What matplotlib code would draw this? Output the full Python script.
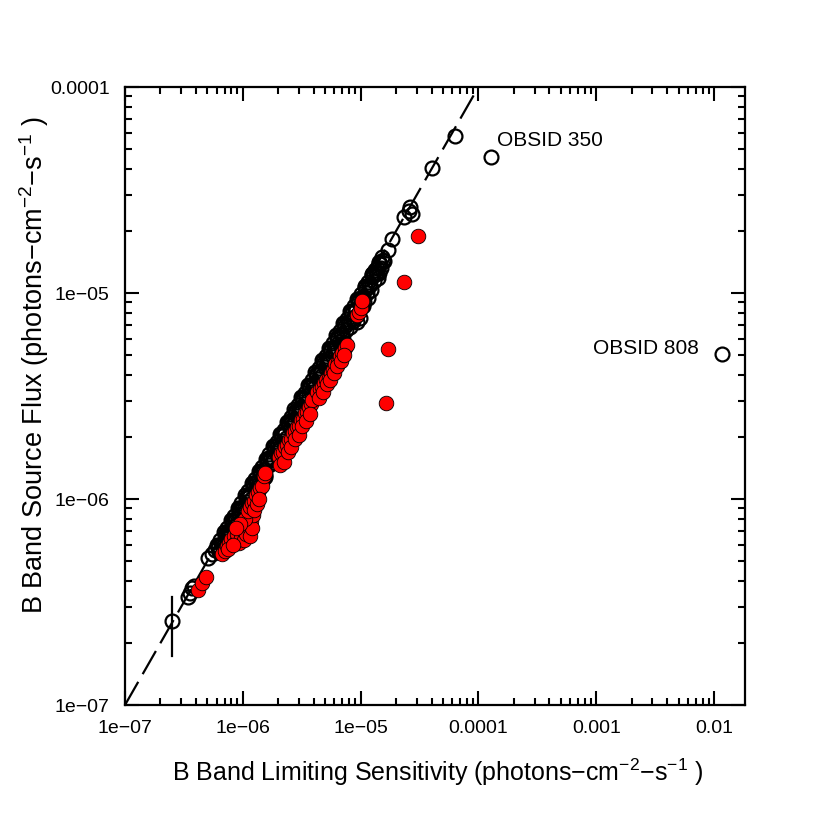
import matplotlib
matplotlib.use('Agg')
import matplotlib.pyplot as plt
import numpy as np
from matplotlib.ticker import FixedLocator, FixedFormatter, LogLocator, NullFormatter

plt.rcParams['font.family'] = ['Liberation Sans', 'DejaVu Sans']
plt.rcParams['mathtext.default'] = 'regular'

# sources on the detection line (open black circles), units of 1e-6
black_x = [0.252, 0.34, 0.355, 0.37, 0.385, 0.51, 0.545, 0.575,
           0.600, 0.621, 0.643, 0.665, 0.689, 0.713, 0.738, 0.763, 0.790, 0.818,
           0.846, 0.876, 0.907, 0.938, 0.971, 1.005, 1.040, 1.077, 1.114, 1.153,
           1.194, 1.235, 1.279, 1.323, 1.370, 1.418, 1.467, 1.518, 1.572, 1.627,
           1.684, 1.742, 1.803, 1.866, 1.932, 1.999, 2.069, 2.142, 2.217, 2.294,
           2.374, 2.458, 2.544, 2.633, 2.725, 2.820, 2.919, 3.021, 3.127, 3.236,
           3.349, 3.467, 3.588, 3.714, 3.843, 3.978, 4.117, 4.261, 4.410, 4.565,
           4.724, 4.890, 5.061, 5.238, 5.421, 5.611, 5.808, 6.011, 6.221, 6.439,
           6.665, 6.898, 7.139, 7.389, 7.648, 7.915, 8.192, 8.479, 8.776, 9.083,
           9.401, 9.730, 10.07, 10.42, 10.79, 11.17, 11.56, 11.96, 12.38, 12.81,
           13.26, 13.72, 14.20, 14.70, 15.22, 15.75,
           1.48, 1.55, 6.8, 7.1, 9.3, 9.9, 8.6, 10.5, 11.5, 12.8, 13.8,
           14.2, 17.0, 18.5, 23.5, 25.5, 27.5, 26.0, 40.3, 63.0, 128.0, 11700.0]
black_y = [0.256, 0.335, 0.35, 0.37, 0.38, 0.52, 0.54, 0.565,
           0.600, 0.584, 0.630, 0.605, 0.689, 0.670, 0.723, 0.694, 0.790, 0.769,
           0.829, 0.797, 0.907, 0.882, 0.952, 0.915, 1.040, 1.012, 1.092, 1.049,
           1.194, 1.161, 1.253, 1.204, 1.370, 1.333, 1.438, 1.381, 1.572, 1.529,
           1.650, 1.585, 1.803, 1.754, 1.893, 1.819, 2.069, 2.013, 2.173, 2.088,
           2.374, 2.311, 2.493, 2.396, 2.725, 2.651, 2.861, 2.749, 3.127, 3.042,
           3.282, 3.155, 3.588, 3.491, 3.766, 3.620, 4.117, 4.005, 4.322, 4.154,
           4.724, 4.597, 4.960, 4.767, 5.421, 5.274, 5.692, 5.470, 6.221, 6.053,
           6.532, 6.277, 7.139, 6.946, 7.495, 7.203, 8.192, 7.970, 8.600, 8.266,
           9.401, 9.146, 9.87, 9.48, 10.79, 10.50, 11.33, 10.88, 12.38, 12.04,
           12.99, 12.49, 14.20, 13.82, 14.92, 14.33,
           1.25, 1.28, 5.5, 5.7, 7.2, 7.6, 7.3, 8.6, 9.5, 12.5, 13.2,
           12.5, 16.2, 18.3, 23.3, 25.0, 24.2, 26.2, 40.5, 58.0, 45.7, 5.06]

# more line sources, slightly fainter than the limit
black2_x = [0.610, 0.632, 0.654, 0.677, 0.701, 0.725, 0.751, 0.777, 0.804, 0.832,
            0.861, 0.891, 0.922, 0.954, 0.988, 1.022, 1.058, 1.095, 1.133, 1.173,
            1.214, 1.257, 1.301, 1.346, 1.394, 1.442, 1.492, 1.545, 1.599, 1.655,
            1.713, 1.773, 1.835, 1.899, 1.965, 2.034, 2.105, 2.179, 2.255, 2.334,
            2.416, 2.501, 2.588, 2.679, 2.772, 2.869, 2.970, 3.074, 3.181, 3.292,
            3.408, 3.527, 3.651, 3.778, 3.910, 4.047, 4.189, 4.335, 4.487, 4.644,
            4.807, 4.975, 5.149, 5.329, 5.516, 5.709, 5.909, 6.116, 6.330, 6.552,
            6.781, 7.018, 7.264, 7.518, 7.781, 8.054, 8.335, 8.627, 8.929, 9.242,
            9.565, 9.900, 10.25, 10.61, 10.98, 11.36, 11.76, 12.17, 12.60, 13.04,
            13.49, 13.96, 14.45, 14.96, 15.48]
black2_y = [0.592, 0.556, 0.608, 0.575, 0.680, 0.638, 0.698, 0.660, 0.780, 0.732,
            0.801, 0.757, 0.894, 0.840, 0.919, 0.869, 1.026, 0.964, 1.054, 0.997,
            1.178, 1.106, 1.210, 1.144, 1.352, 1.269, 1.388, 1.313, 1.551, 1.456,
            1.593, 1.507, 1.780, 1.671, 1.827, 1.729, 2.042, 1.918, 2.097, 1.984,
            2.344, 2.201, 2.407, 2.277, 2.689, 2.525, 2.762, 2.613, 3.086, 2.897,
            3.169, 2.998, 3.541, 3.325, 3.636, 3.440, 4.063, 3.815, 4.173, 3.947,
            4.663, 4.378, 4.789, 4.530, 5.351, 5.024, 5.495, 5.199, 6.140, 5.766,
            6.306, 5.965, 7.046, 6.616, 7.236, 6.846, 8.085, 7.592, 8.304, 7.856,
            9.278, 8.712, 9.533, 9.019, 10.65, 9.997, 10.94, 10.34, 12.22, 11.48,
            12.55, 11.87, 14.02, 13.16, 14.40]

# sources below the line (filled red), units of 1e-6
red_x = [0.42, 0.45, 0.49,
         0.66, 0.70, 0.73, 0.77, 0.80, 0.84, 0.87, 0.90, 0.93, 0.97, 1.00, 1.03,
         1.06, 1.10, 1.14, 1.17, 1.20, 1.22, 1.05, 1.10, 1.15, 1.20, 1.25, 1.30,
         1.35, 1.40, 1.45, 0.95, 0.88, 0.75, 0.82, 1.25, 1.32, 1.38, 1.50, 1.55,
         2.02, 2.10, 2.18, 2.26, 2.35, 2.45, 2.55, 2.65,
         2.75, 2.86, 2.98, 3.10, 3.22, 3.35, 3.48, 3.62, 3.76, 3.90,
         2.06, 2.22, 2.40, 2.58, 2.80, 3.00, 3.20, 3.45, 3.70,
         4.3, 4.5, 4.7, 4.9, 5.1, 5.35, 5.6, 5.85, 6.1, 6.4, 6.7, 7.0, 7.3, 7.6,
         4.4, 4.8, 5.2, 5.5, 5.9, 6.3, 6.8, 7.2,
         9.3, 9.6, 10.0, 10.3,
         30.7, 23.3, 17.1, 16.4]
red_y = [0.36, 0.39, 0.42,
         0.54, 0.56, 0.59, 0.61, 0.64, 0.66, 0.62, 0.68, 0.61, 0.65, 0.72, 0.63,
         0.68, 0.74, 0.66, 0.78, 0.72, 0.84, 0.80, 0.87, 0.91, 0.96, 0.98, 1.04,
         1.08, 1.13, 1.15, 0.76, 0.72, 0.57, 0.60, 0.88, 0.95, 1.00, 1.30, 1.34,
         1.60, 1.68, 1.70, 1.79, 1.83, 1.94, 1.96, 2.09,
         2.13, 2.24, 2.26, 2.43, 2.45, 2.61, 2.65, 2.80, 2.88, 3.02,
         1.46, 1.52, 1.70, 1.78, 1.96, 2.05, 2.26, 2.38, 2.60,
         3.30, 3.42, 3.50, 3.65, 3.78, 3.86, 4.10, 4.25, 4.54, 4.65, 4.92, 5.10,
         5.40, 5.60,
         3.10, 3.30, 3.62, 3.80, 4.10, 4.40, 4.70, 5.00,
         7.8, 8.1, 8.5, 9.1,
         18.9, 11.3, 5.35, 2.92]

# error bar on the faintest source
err_x = 0.252
err_lo, err_hi = 0.173, 0.334

x_ticks = [1e-7, 1e-6, 1e-5, 1e-4, 1e-3, 1e-2]
x_tick_labels = ['1e\u221207', '1e\u221206', '1e\u221205', '0.0001', '0.001', '0.01']
y_ticks = [1e-7, 1e-6, 1e-5, 1e-4]
y_tick_labels = ['1e\u221207', '1e\u221206', '1e\u221205', '0.0001']

bx = np.array(black_x + black2_x) * 1e-6
by = np.array(black_y + black2_y) * 1e-6
rx = np.array(red_x) * 1e-6
ry = np.array(red_y) * 1e-6

fig = plt.figure(figsize=(8.3, 8.3), dpi=100)
ax = fig.add_axes([125 / 830, 125 / 830, 620 / 830, 618 / 830])
ax.set_xscale('log')
ax.set_yscale('log')
ax.set_xlim(1e-7, 0.0183)
ax.set_ylim(1e-7, 1e-4)

# one-to-one line
line = np.array([1e-7, 1e-4])
ax.plot(line, line, color='black', lw=1.6, dashes=(12, 4), zorder=1)

ax.plot([err_x * 1e-6, err_x * 1e-6], [err_lo * 1e-6, err_hi * 1e-6],
        color='black', lw=1.6, zorder=2)

ax.plot(bx, by, 'o', ms=10, mfc='none', mec='black', mew=1.6, zorder=3)
ax.plot(rx, ry, 'o', ms=10.5, mfc='#ff0000', mec='black', mew=0.6, zorder=4)

ax.text(1.44e-4, 5.47e-5, 'OBSID 350', fontsize=15, ha='left', va='center')
ax.text(7.4e-3, 5.35e-6, 'OBSID 808', fontsize=15, ha='right', va='center')

ax.xaxis.set_major_locator(FixedLocator(x_ticks))
ax.xaxis.set_major_formatter(FixedFormatter(x_tick_labels))
ax.yaxis.set_major_locator(FixedLocator(y_ticks))
ax.yaxis.set_major_formatter(FixedFormatter(y_tick_labels))
ax.xaxis.set_minor_locator(LogLocator(base=10, subs=np.arange(2, 10), numticks=20))
ax.yaxis.set_minor_locator(LogLocator(base=10, subs=np.arange(2, 10), numticks=20))
ax.xaxis.set_minor_formatter(NullFormatter())
ax.yaxis.set_minor_formatter(NullFormatter())

ax.tick_params(which='both', direction='in', top=True, right=True, width=1.5)
ax.tick_params(which='major', length=10, labelsize=14)
ax.tick_params(which='minor', length=5)
ax.tick_params(axis='x', which='major', pad=11)
ax.tick_params(axis='y', which='major', pad=11)
for s in ax.spines.values():
    s.set_linewidth(1.6)

ax.set_xlabel('B Band Limiting Sensitivity (photons\u2212cm$^{\u22122}$\u2212s$^{\u22121}$ )',
              fontsize=18)
ax.set_ylabel('B Band Source Flux (photons\u2212cm$^{\u22122}$\u2212s$^{\u22121}$ )',
              fontsize=19.5)
ax.xaxis.set_label_coords(0.505, -0.083)
ax.yaxis.set_label_coords(-0.12, 0.55)

fig.savefig('out.png', dpi=100)
